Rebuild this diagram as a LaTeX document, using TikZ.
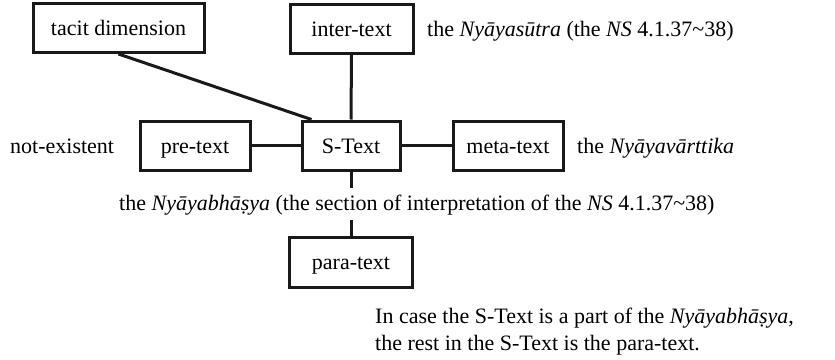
\documentclass[tikz,border=0pt]{standalone}
\usepackage{fontspec}
\setmainfont{Liberation Serif}
\usetikzlibrary{calc}
\begin{document}
\begin{tikzpicture}[x=1pt,y=-1pt,
  box/.style={draw=black!90, line width=3pt, inner sep=0pt, minimum height=49pt, text height=15pt, text depth=0pt, font=\fontsize{22}{26}\selectfont},
  conn/.style={draw=black!90, line width=3pt},
  lbl/.style={inner sep=0pt, anchor=base west, font=\fontsize{22}{26}\selectfont}]
\useasboundingbox (0,0) rectangle (835,359);
\node[box, minimum width=171pt] (tacit) at (118.5,28) {tacit dimension};
\node[box, minimum width=123pt] (inter) at (351.5,28.5) {inter-text};
\node[box, minimum width=110pt] (pre) at (195,145.5) {pre-text};
\node[box, minimum width=98pt] (stext) at (351,145.5) {S-Text};
\node[box, minimum width=110pt] (meta) at (508,145.5) {meta-text};
\node[box, minimum width=123pt, minimum height=50pt] (para) at (351,262) {para-text};
\node[lbl] (lnyaya) at (427,36) {the \textit{Nyāyasūtra} (the \textit{NS} 4.1.37\char`~38)};
\node[lbl] (lvart) at (577,153) {the \textit{Nyāyavārttika}};
\node[lbl] (lnot) at (10,153) {not-existent};
\node[lbl] (lbhasya) at (119,210) {the \textit{Nyāyabhāṣya} (the section of interpretation of the \textit{NS} 4.1.37\char`~38)};
\node[lbl] (lcase1) at (375,323) {In case the S-Text is a part of the \textit{Nyāyabhāṣya},};
\node[lbl] (lcase2) at (375,350) {the rest in the S-Text is the para-text.};
\coordinate (gap1) at (351,188);
\coordinate (gap2) at (351,220);
\draw[conn] (tacit.south) -- ([xshift=11pt]stext.north west);
\draw[conn] (inter.south) -- (stext.north);
\draw[conn] (pre.east) -- (stext.west);
\draw[conn] (stext.east) -- (meta.west);
\draw[conn] (stext.south) -- (gap1);
\draw[conn] (gap2) -- (para.north);
\end{tikzpicture}
\end{document}
